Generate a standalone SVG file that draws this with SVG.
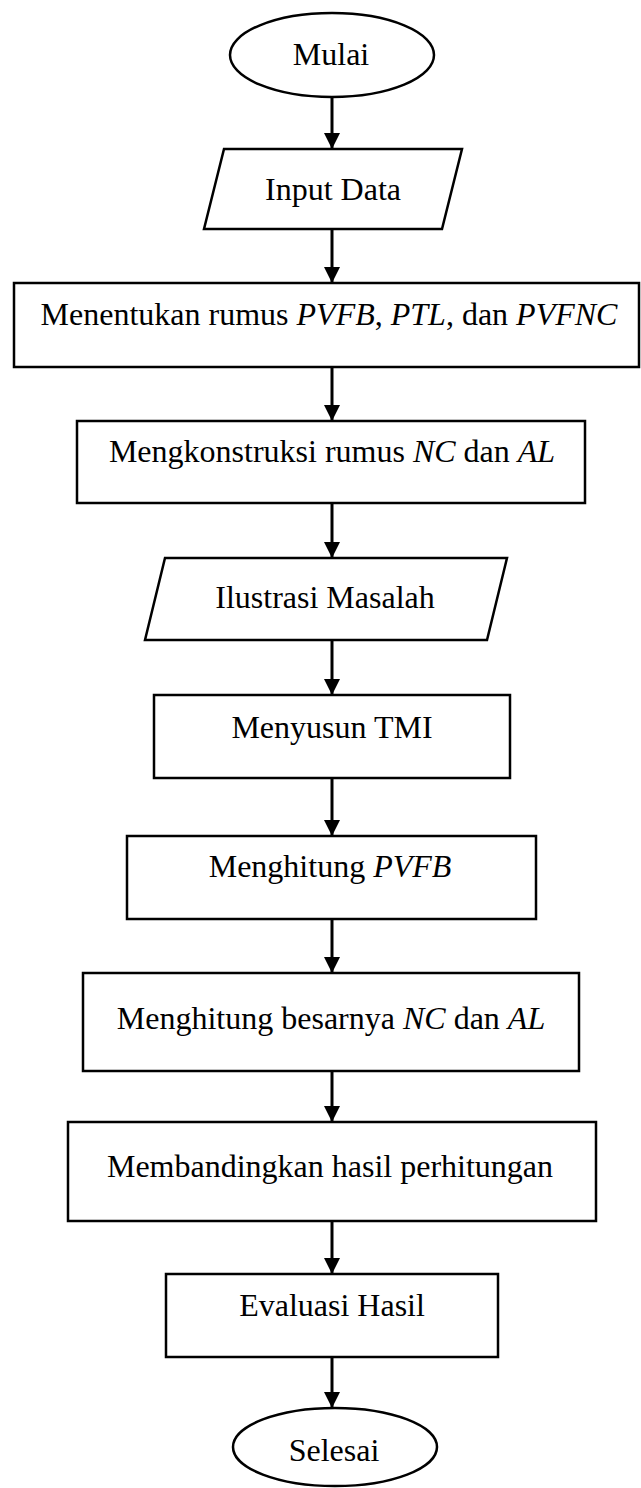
<svg xmlns="http://www.w3.org/2000/svg" width="641" height="1488" viewBox="0 0 641 1488">
<style>
.s{fill:#fff;stroke:#000;stroke-width:2.5}
.t{font-family:"Liberation Serif","Times New Roman",serif;font-size:32px;fill:#000;text-anchor:middle}
.m{font-style:italic}
.c{stroke:#000;stroke-width:3;fill:none}
</style>
<defs>
<marker id="ah" markerUnits="userSpaceOnUse" markerWidth="16" markerHeight="16" refX="16" refY="8" orient="auto">
<path d="M0,0 L16,8 L0,16 Z" fill="#000"/>
</marker>
</defs>
<g id="connectors">
<line class="c" x1="332" y1="97" x2="332" y2="149" marker-end="url(#ah)"/>
<line class="c" x1="332" y1="229" x2="332" y2="283" marker-end="url(#ah)"/>
<line class="c" x1="332" y1="367" x2="332" y2="421" marker-end="url(#ah)"/>
<line class="c" x1="332" y1="503" x2="332" y2="558" marker-end="url(#ah)"/>
<line class="c" x1="332" y1="640" x2="332" y2="695" marker-end="url(#ah)"/>
<line class="c" x1="332" y1="778" x2="332" y2="836" marker-end="url(#ah)"/>
<line class="c" x1="332" y1="919" x2="332" y2="973" marker-end="url(#ah)"/>
<line class="c" x1="332" y1="1071" x2="332" y2="1122" marker-end="url(#ah)"/>
<line class="c" x1="332" y1="1221" x2="332" y2="1274" marker-end="url(#ah)"/>
<line class="c" x1="332" y1="1357" x2="332" y2="1408" marker-end="url(#ah)"/>
</g>
<g id="mulai">
<ellipse class="s" cx="332" cy="55" rx="102" ry="42"/>
<text class="t" x="331" y="65">Mulai</text>
</g>
<g id="input-data">
<polygon class="s" points="224,149 462,149 442,229 204,229"/>
<text class="t" x="333" y="200">Input Data</text>
</g>
<g id="menentukan">
<rect class="s" x="14" y="283" width="625" height="84"/>
<text class="t" x="329" y="325">Menentukan rumus <tspan class="m">PVFB</tspan>, <tspan class="m">PTL</tspan>, dan <tspan class="m">PVFNC</tspan></text>
</g>
<g id="mengkonstruksi">
<rect class="s" x="77" y="421" width="508" height="82"/>
<text class="t" x="332" y="462">Mengkonstruksi rumus <tspan class="m">NC</tspan> dan <tspan class="m">AL</tspan></text>
</g>
<g id="ilustrasi">
<polygon class="s" points="165,558 507,558 487,640 145,640"/>
<text class="t" x="325" y="608">Ilustrasi Masalah</text>
</g>
<g id="menyusun">
<rect class="s" x="154" y="695" width="356" height="83"/>
<text class="t" x="332" y="738">Menyusun TMI</text>
</g>
<g id="menghitung-pvfb">
<rect class="s" x="127" y="836" width="409" height="83"/>
<text class="t" x="330" y="877">Menghitung <tspan class="m">PVFB</tspan></text>
</g>
<g id="menghitung-besarnya">
<rect class="s" x="83" y="973" width="496" height="98"/>
<text class="t" x="331" y="1029">Menghitung besarnya <tspan class="m">NC</tspan> dan <tspan class="m">AL</tspan></text>
</g>
<g id="membandingkan">
<rect class="s" x="68" y="1122" width="528" height="99"/>
<text class="t" x="330" y="1177">Membandingkan hasil perhitungan</text>
</g>
<g id="evaluasi">
<rect class="s" x="166" y="1274" width="332" height="83"/>
<text class="t" x="332" y="1316">Evaluasi Hasil</text>
</g>
<g id="selesai">
<ellipse class="s" cx="335" cy="1447" rx="102" ry="39"/>
<text class="t" x="334" y="1461">Selesai</text>
</g>
</svg>
